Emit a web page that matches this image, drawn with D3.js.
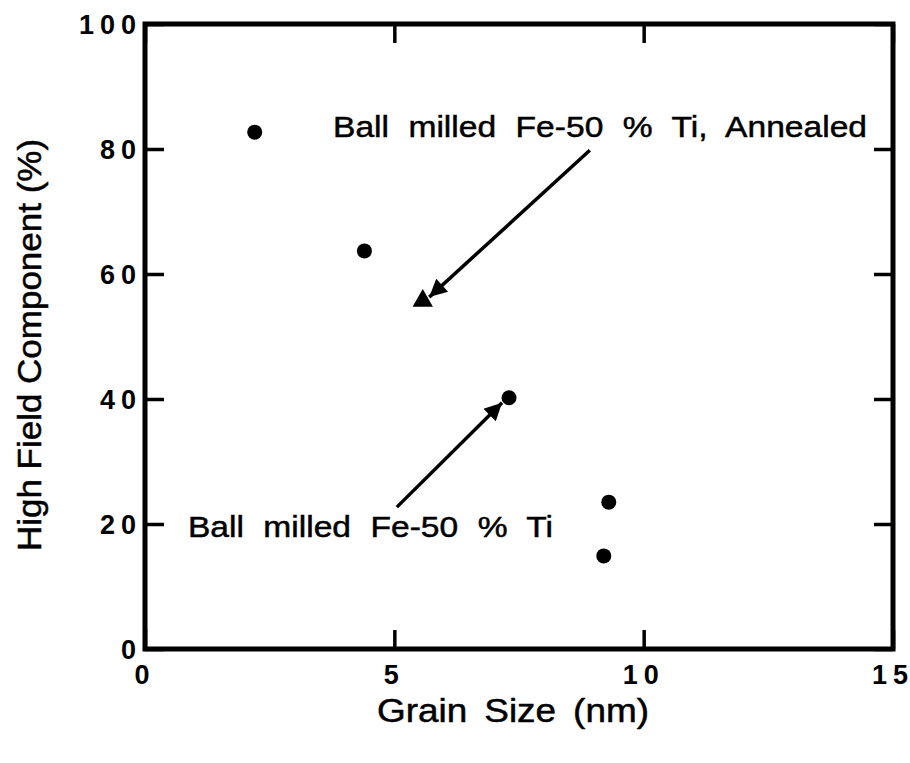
<!DOCTYPE html>
<html>
<head>
<meta charset="utf-8">
<script src="https://cdn.jsdelivr.net/npm/d3@7"></script>
<style>
  html, body { margin: 0; padding: 0; background: #fff; }
  svg { display: block; }
  text { font-family: "Liberation Sans", Arial, Helvetica, sans-serif; fill: #000; }
  .heavy { stroke: #000; stroke-width: 0.5px; }
</style>
</head>
<body>
<svg id="chart" width="910" height="763"></svg>
<script>
// As-milled samples: grain size (nm) vs. high field component (%)
const grainSize = [2.2, 4.4, 7.3, 9.3, 9.2];
const highField = [82.7, 63.7, 40.2, 23.5, 14.9];

// Annealed sample
const annealedGrain = [5.57];
const annealedField = [55.7];

// Axis ticks
const xTicks = [0, 5, 10, 15];
const yTicks = [0, 20, 40, 60, 80, 100];

// Annotation labels and arrows (data coordinates: from -> to)
const labelTexts = ["Ball milled Fe-50 % Ti, Annealed", "Ball milled Fe-50 % Ti"];
const labelAnchors = [[3.77, 81.9], [0.86, 17.9]];
const arrowFrom = [[8.92, 79.8], [5.05, 22.7]];
const arrowTo = [[5.7, 56.3], [7.16, 39.4]];

const svg = d3.select("#chart");
const margin = { left: 145, top: 24, right: 17, bottom: 114 };
const W = 910 - margin.left - margin.right;
const H = 763 - margin.top - margin.bottom;

const x = d3.scaleLinear().domain([0, 15]).range([0, W]);
const y = d3.scaleLinear().domain([0, 100]).range([H, 0]);

const g = svg.append("g").attr("transform", `translate(${margin.left},${margin.top})`);

// Inward ticks on all four sides
const tickLen = 19;
const tickStyle = sel => {
  sel.select(".domain").remove();
  sel.selectAll(".tick line").attr("stroke", "#000").attr("stroke-width", 3.5);
};
g.append("g").attr("transform", `translate(0,${H})`)
  .call(d3.axisBottom(x).tickValues(xTicks).tickSize(-tickLen).tickFormat(""))
  .call(tickStyle);
g.append("g")
  .call(d3.axisTop(x).tickValues(xTicks).tickSize(-tickLen).tickFormat(""))
  .call(tickStyle);
g.append("g")
  .call(d3.axisLeft(y).tickValues(yTicks).tickSize(-tickLen).tickFormat(""))
  .call(tickStyle);
g.append("g").attr("transform", `translate(${W},0)`)
  .call(d3.axisRight(y).tickValues(yTicks).tickSize(-tickLen).tickFormat(""))
  .call(tickStyle);

// Frame
g.append("rect").attr("x", 0).attr("y", 0).attr("width", W).attr("height", H)
  .attr("fill", "none").attr("stroke", "#000").attr("stroke-width", 5);

// Tick labels: bold digits with extra gaps between them (no trailing gap)
const digitGap = d => String(d).split("").map((c, i) => i === 0 ? 0 : 6).join(" ");
const tickFont = sel => sel.style("font-size", "27px").style("font-weight", "bold");
g.selectAll(".xlab").data(xTicks).enter().append("text")
  .attr("x", d => x(d) - 3).attr("y", H + 35)
  .attr("dx", digitGap)
  .attr("text-anchor", "middle")
  .call(tickFont)
  .text(d => d);
g.selectAll(".ylab").data(yTicks).enter().append("text")
  .attr("x", -9).attr("y", d => y(d) + 10)
  .attr("dx", digitGap)
  .attr("text-anchor", "end")
  .call(tickFont)
  .text(d => d);

// Axis titles (slightly widened lettering)
svg.append("text").attr("class", "heavy")
  .attr("transform", `translate(${margin.left + x(7.5) - 6},722) scale(1.12,1)`)
  .attr("text-anchor", "middle").style("font-size", "33px")
  .style("word-spacing", "6px")
  .text("Grain Size (nm)");
svg.append("text").attr("class", "heavy")
  .attr("transform", `translate(41,345) rotate(-90) scale(1.06,1)`)
  .attr("text-anchor", "middle").style("font-size", "33px")
  .text("High Field Component (%)");

// Arrows
const defs = svg.append("defs");
defs.append("marker").attr("id", "head")
  .attr("viewBox", "0 0 10 10").attr("refX", 10).attr("refY", 5)
  .attr("markerWidth", 6).attr("markerHeight", 5).attr("markerUnits", "strokeWidth")
  .attr("orient", "auto")
  .append("path").attr("d", "M0,0 L10,5 L0,10 Z").attr("fill", "#000");

g.selectAll(".arrow").data(arrowFrom).enter().append("line")
  .attr("x1", d => x(d[0])).attr("y1", d => y(d[1]))
  .attr("x2", (d, i) => x(arrowTo[i][0])).attr("y2", (d, i) => y(arrowTo[i][1]))
  .attr("stroke", "#000").attr("stroke-width", 3.5)
  .attr("marker-end", "url(#head)");

// Data points
g.selectAll(".pt").data(grainSize).enter().append("circle")
  .attr("cx", d => x(d)).attr("cy", (d, i) => y(highField[i]))
  .attr("r", 7.5).attr("fill", "#000");

const tri = d3.symbol().type(d3.symbolTriangle).size(180);
g.selectAll(".ann").data(annealedGrain).enter().append("path")
  .attr("d", tri)
  .attr("transform", (d, i) => `translate(${x(d)},${y(annealedField[i])})`)
  .attr("fill", "#000");

// Annotation labels (slightly widened lettering)
g.selectAll(".lbl").data(labelTexts).enter().append("text").attr("class", "heavy")
  .attr("transform", (d, i) => `translate(${x(labelAnchors[i][0])},${y(labelAnchors[i][1])}) scale(1.12,1)`)
  .style("font-size", "30px").style("word-spacing", "9px")
  .text(d => d);
</script>
</body>
</html>
